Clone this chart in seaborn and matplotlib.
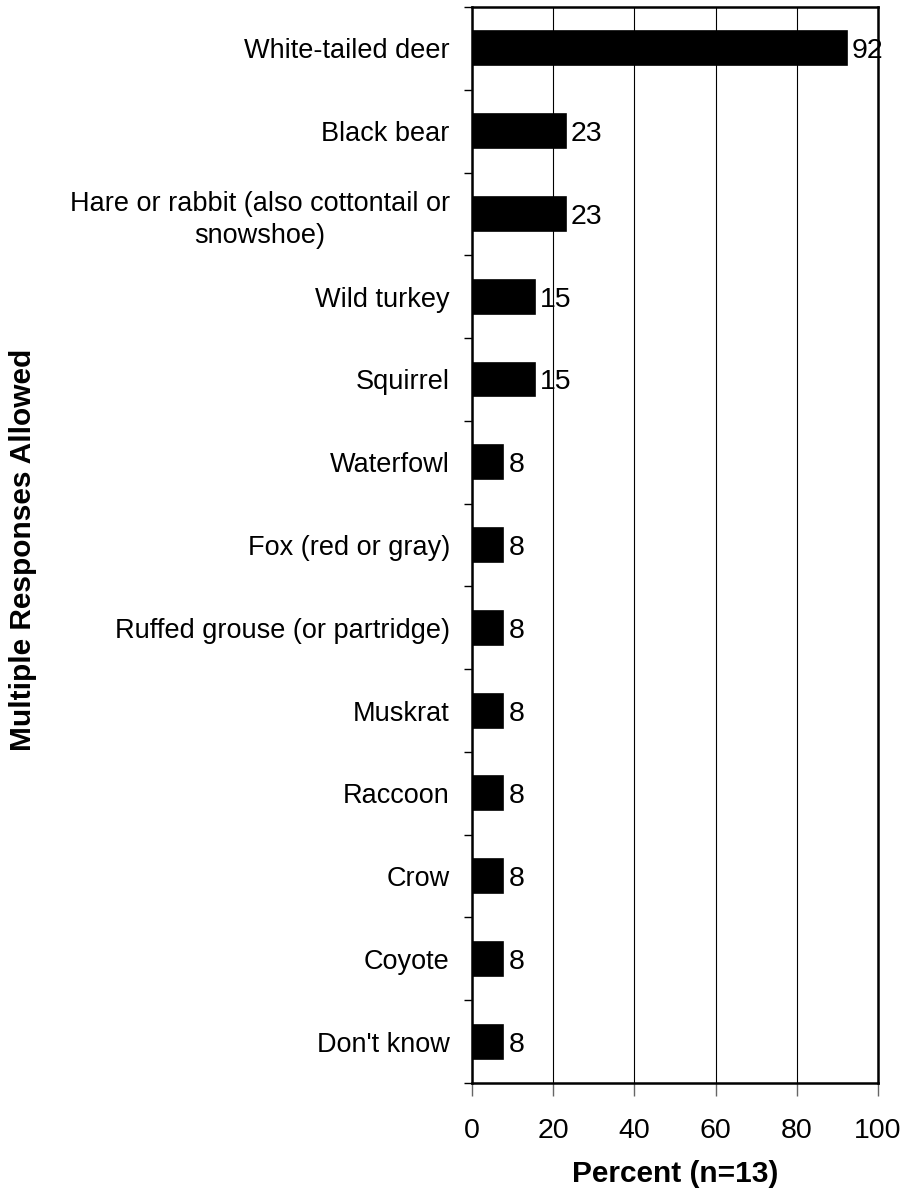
import numpy as np
import pandas as pd
import matplotlib
matplotlib.use("Agg")
import matplotlib.pyplot as plt
import seaborn as sns
from matplotlib.ticker import FixedLocator

# --- DATA ---
species = [
    "White-tailed deer",
    "Black bear",
    "Hare or rabbit (also cottontail or\nsnowshoe)",
    "Wild turkey",
    "Squirrel",
    "Waterfowl",
    "Fox (red or gray)",
    "Ruffed grouse (or partridge)",
    "Muskrat",
    "Raccoon",
    "Crow",
    "Coyote",
    "Don't know",
]
percent = [92.3, 23.1, 23.1, 15.4, 15.4, 7.7, 7.7, 7.7, 7.7, 7.7, 7.7, 7.7, 7.7]
x_ticks = [0, 20, 40, 60, 80, 100]

df = pd.DataFrame({"species": species, "percent": percent})

sns.set_style("white")
plt.rcParams["font.family"] = ["Liberation Sans", "DejaVu Sans"]
plt.rcParams["text.color"] = "black"
plt.rcParams["xtick.color"] = "black"
plt.rcParams["ytick.color"] = "black"
plt.rcParams["axes.labelcolor"] = "black"

fig = plt.figure(figsize=(9.03, 11.96), dpi=100)
ax = fig.add_axes([0.5227, 0.0945, 0.4496, 0.8996])

sns.barplot(data=df, x="percent", y="species", orient="h", color="black",
            width=0.41, saturation=1, ax=ax, zorder=3,
            edgecolor="black", linewidth=1.2)

ax.set_xlim(0, 100)
ax.set_ylim(len(species) - 0.5, -0.5)
ax.xaxis.set_major_locator(FixedLocator(x_ticks))
ax.grid(True, axis="x", color="black", linewidth=0.8, zorder=0)
ax.grid(False, axis="y")

for sp in ax.spines.values():
    sp.set_visible(True)
    sp.set_color("black")
    sp.set_linewidth(1.8)

# ticks between categories on the y axis
ax.yaxis.set_minor_locator(FixedLocator(np.arange(-0.5, len(species), 1.0)))
ax.tick_params(axis="y", which="major", length=0, labelsize=19.5, pad=16)
ax.tick_params(axis="y", which="minor", length=6, width=1, color="black", direction="out", left=True)
ax.tick_params(axis="x", which="major", length=9, width=1, color="#666666", direction="out",
               bottom=True, labelsize=20.5, pad=16)
for lbl in ax.get_yticklabels():
    lbl.set_multialignment("center")
    lbl.set_linespacing(1.3)

for i, v in enumerate(percent):
    ax.text(v + 1.3, i, f"{v:.0f}", va="center_baseline", ha="left", fontsize=20.5, zorder=4)

ax.set_xlabel("Percent (n=13)", fontsize=21.5, fontweight="bold", labelpad=12)
ax.set_ylabel("")
fig.text(0.026, 0.54, "Multiple Responses Allowed", rotation=90, va="center", ha="center",
         fontsize=21.5, fontweight="bold")

fig.savefig("out.png", dpi=100)
